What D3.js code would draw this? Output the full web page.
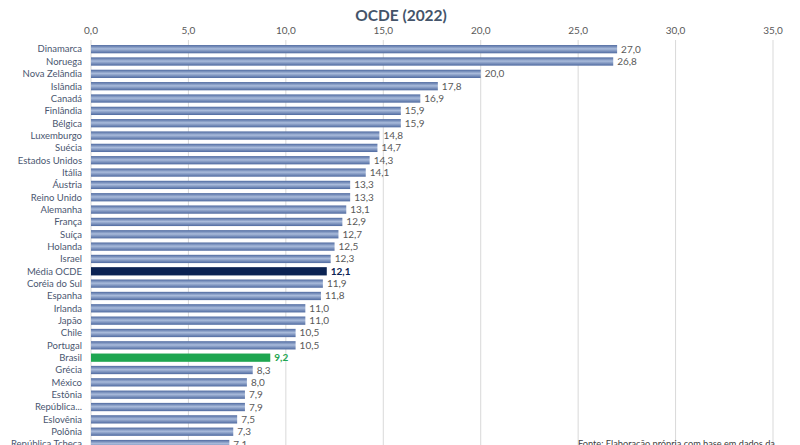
<!DOCTYPE html>
<html><head><meta charset="utf-8">
<script src="https://cdn.jsdelivr.net/npm/d3@7/dist/d3.min.js"></script>
<style>body{margin:0;background:#fff;overflow:hidden}svg{display:block}text{font-family:Lato,"Open Sans",sans-serif}</style>
</head><body>
<svg id="c" width="800" height="445"></svg>
<script>
const countries = ["Dinamarca","Noruega","Nova Zelândia","Islândia","Canadá","Finlândia","Bélgica","Luxemburgo","Suécia","Estados Unidos","Itália","Áustria","Reino Unido","Alemanha","França","Suíça","Holanda","Israel","Média OCDE","Coréia do Sul","Espanha","Irlanda","Japão","Chile","Portugal","Brasil","Grécia","México","Estônia","República...","Eslovênia","Polônia","República Tcheca"];
const values = [27.0,26.8,20.0,17.8,16.9,15.9,15.9,14.8,14.7,14.3,14.1,13.3,13.3,13.1,12.9,12.7,12.5,12.3,12.1,11.9,11.8,11.0,11.0,10.5,10.5,9.2,8.3,8.0,7.9,7.9,7.5,7.3,7.1];
const ticks = [0,5,10,15,20,25,30,35];
const titleLine2 = "OCDE (2022)";
const source = "Fonte: Elaboração própria com base em dados da";

const svg = d3.select("#c");
const fmt = v => d3.format(".1f")(v).replace(".", ",");
const x = d3.scaleLinear().domain([0,35]).range([91,773]);
const y = d3.scaleBand().domain(countries).range([43, 43 + 12.34*countries.length]).paddingInner(0.33).paddingOuter(0.165);

const defs = svg.append("defs");
function grad(id, c1, c2){
  const g = defs.append("linearGradient").attr("id", id).attr("x1",0).attr("x2",0).attr("y1",0).attr("y2",1);
  g.append("stop").attr("offset","0%").attr("stop-color",c1);
  g.append("stop").attr("offset","45%").attr("stop-color",c2);
  g.append("stop").attr("offset","100%").attr("stop-color",c1);
}
grad("gb","#4f6aa0","#a9bbdb");

// gridlines
svg.append("g").selectAll("line").data(ticks).join("line")
  .attr("x1",d=>x(d)).attr("x2",d=>x(d)).attr("y1",40).attr("y2",445)
  .attr("stroke","#d9d9d9").attr("stroke-width",1);

// top axis labels
svg.append("g").selectAll("text").data(ticks).join("text")
  .attr("x",d=>x(d)).attr("y",34).attr("text-anchor","middle")
  .attr("font-size",10).attr("fill","#595959").text(d=>fmt(d));

// title
svg.append("text").attr("x",401).attr("y",21).attr("text-anchor","middle")
  .attr("font-size",15.5).attr("font-weight","bold").attr("fill","#44546a").text(titleLine2);

const colorOf = c => c==="Média OCDE" ? "#0b2353" : c==="Brasil" ? "#1ea650" : "url(#gb)";

svg.append("g").selectAll("rect").data(countries).join("rect")
  .attr("x",x(0)).attr("y",c=>y(c)).attr("height",y.bandwidth())
  .attr("width",(c,i)=>x(values[i])-x(0)).attr("fill",colorOf);

// category labels
svg.append("g").selectAll("text").data(countries).join("text")
  .attr("x",82).attr("y",c=>y(c)+y.bandwidth()/2).attr("dy","0.35em")
  .attr("text-anchor","end").attr("font-size",9.5)
  .attr("fill","#4a5670")
  .text(c=>c);

// value labels
svg.append("g").selectAll("text").data(countries).join("text")
  .attr("x",(c,i)=>x(values[i])+4).attr("y",c=>y(c)+y.bandwidth()/2).attr("dy","0.35em")
  .attr("font-size",10)
  .attr("font-weight",c=>(c==="Média OCDE"||c==="Brasil")?"bold":"normal")
  .attr("fill",c=>c==="Média OCDE"?"#0b2353":c==="Brasil"?"#1ea650":"#595959")
  .text((c,i)=>fmt(values[i]));

svg.append("text").attr("x",578).attr("y",447).attr("font-size",9.2).attr("fill","#404040").text(source);
</script>
</body></html>
